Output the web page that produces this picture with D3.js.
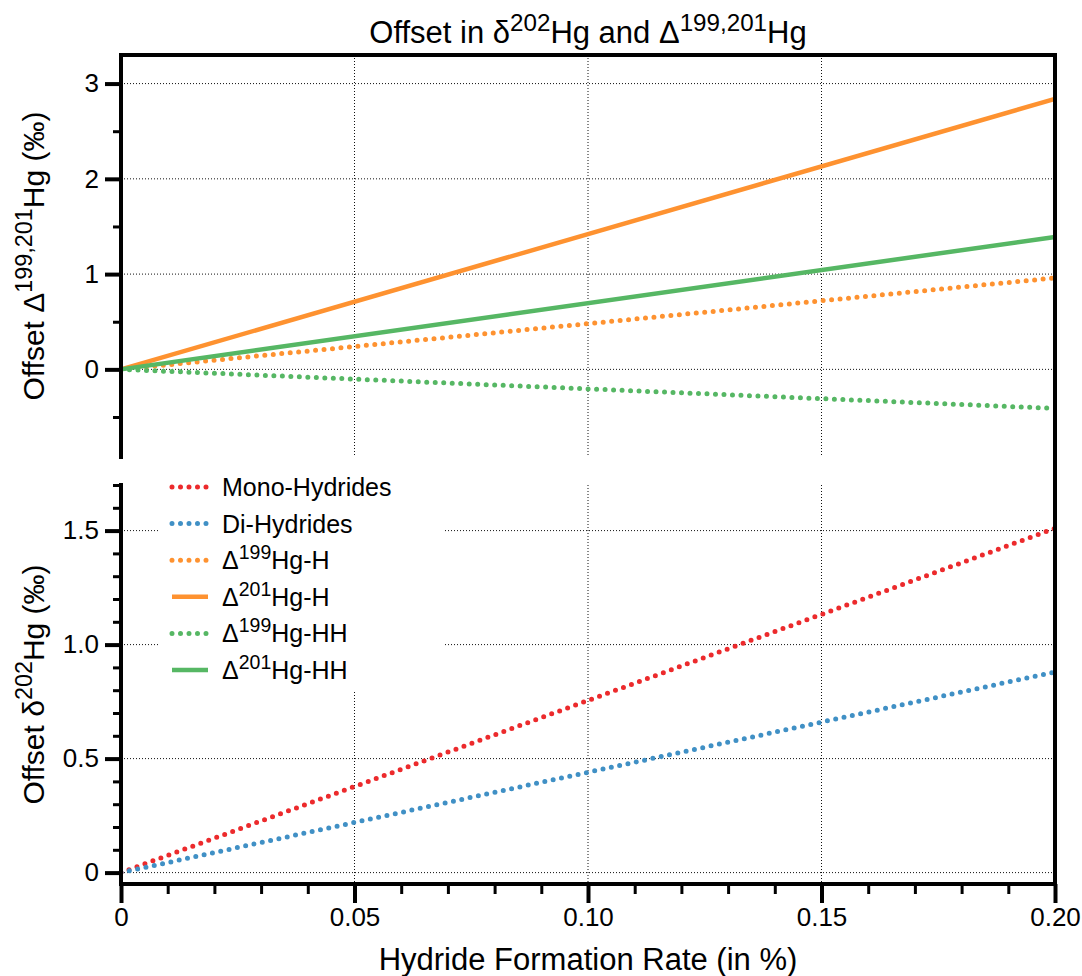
<!DOCTYPE html>
<html>
<head>
<meta charset="utf-8">
<script src="https://cdn.jsdelivr.net/npm/d3@7"></script>
<style>
  body { margin: 0; background: #fff; }
  text { font-family: "Liberation Sans", Arial, Helvetica, sans-serif; fill: #000; }
</style>
</head>
<body>
<div id="chart"></div>
<script>
// x positions of the computed end points (hydride formation rate, %)
const rate = [0, 0.2];

// top panel: offset in Δ199,201Hg (‰)
const d199H = [0, 0.96];
const d201H = [0, 2.84];
const d199HH = [0, -0.41];
const d201HH = [0, 1.39];

// bottom panel: offset in δ202Hg (‰)
const mono = [0, 1.51];
const di = [0, 0.88];

const xTicks = [0, 0.05, 0.10, 0.15, 0.20];
const xTickLabels = ["0", "0.05", "0.10", "0.15", "0.20"];
const xMinor = [0.01, 0.02, 0.03, 0.04, 0.06, 0.07, 0.08, 0.09, 0.11, 0.12, 0.13, 0.14, 0.16, 0.17, 0.18, 0.19];
const xGrid = [0.05, 0.10, 0.15];

const topTicks = [0, 1, 2, 3];
const topTickLabels = ["0", "1", "2", "3"];
const topMinor = [-0.5, 0.5, 1.5, 2.5];

const botTicks = [0, 0.5, 1.0, 1.5];
const botTickLabels = ["0", "0.5", "1.0", "1.5"];
const botMinor = [0.1, 0.2, 0.3, 0.4, 0.6, 0.7, 0.8, 0.9, 1.1, 1.2, 1.3, 1.4, 1.6, 1.7];

const width = 1082, height = 976;
const left = 121, right = 1055;
const topPanel = { top: 55, bottom: 457 };
const botPanel = { top: 485, bottom: 884 };

const colors = { red: "#ec2a2c", blue: "#4090c5", orange: "#fe9230", green: "#56b764" };

const svg = d3.select("#chart").append("svg")
    .attr("width", width)
    .attr("height", height);

const x = d3.scaleLinear().domain([0, 0.2]).range([left, right]);
const yTop = d3.scaleLinear().domain([-0.92, 3.3]).range([topPanel.bottom, topPanel.top]);
const yBot = d3.scaleLinear().domain([-0.05, 1.7]).range([botPanel.bottom, botPanel.top]);

// helper: text with superscript parts, [[str, isSup], ...]
function richText(g, parts, size) {
    let t = g.append("text").style("font-size", size + "px");
    let raised = false;
    parts.forEach(p => {
        let ts = t.append("tspan").text(p[0]);
        if (p[1] && !raised) {
            ts.attr("dy", -0.4 * size).style("font-size", (0.78 * size) + "px");
            raised = true;
        } else if (p[1]) {
            ts.style("font-size", (0.78 * size) + "px");
        } else if (raised) {
            ts.attr("dy", 0.4 * size);
            raised = false;
        }
    });
    return t;
}

function grid(panel, yScale, yVals) {
    let g = svg.append("g").attr("class", "grid")
        .attr("stroke", "#111")
        .attr("stroke-width", 1)
        .attr("stroke-dasharray", "1,2");
    g.selectAll(".h").data(yVals).enter().append("line")
        .attr("x1", left).attr("x2", right)
        .attr("y1", d => yScale(d)).attr("y2", d => yScale(d));
    g.selectAll(".v").data(xGrid).enter().append("line")
        .attr("x1", d => x(d)).attr("x2", d => x(d))
        .attr("y1", panel.top).attr("y2", panel.bottom);
}

grid(topPanel, yTop, topTicks);
grid(botPanel, yBot, botTicks);

// legend background hides the grid under it
svg.append("rect")
    .attr("x", 160).attr("y", 466)
    .attr("width", 283).attr("height", 226)
    .attr("fill", "#fff");

function drawLine(vals, yScale, color, dotted) {
    let line = d3.line().x((d, i) => x(rate[i])).y(d => yScale(d));
    let p = svg.append("path")
        .datum(vals)
        .attr("d", line)
        .attr("fill", "none")
        .attr("stroke", color);
    if (dotted) {
        p.attr("stroke-width", 5).attr("stroke-linecap", "round").attr("stroke-dasharray", "0,8.5");
    } else {
        p.attr("stroke-width", 4.5);
    }
}

drawLine(d199H, yTop, colors.orange, true);
drawLine(d199HH, yTop, colors.green, true);
drawLine(d201H, yTop, colors.orange, false);
drawLine(d201HH, yTop, colors.green, false);
drawLine(mono, yBot, colors.red, true);
drawLine(di, yBot, colors.blue, true);

// axes
function styleAxis(g, w) {
    g.select(".domain").remove();
    g.selectAll(".tick line").attr("stroke", "#000").attr("stroke-width", w);
    g.selectAll(".tick text").style("font-size", "26px").attr("fill", "#000");
}

function leftAxis(yScale, ticks, labels, minor) {
    svg.append("g")
        .attr("transform", `translate(${left},0)`)
        .call(d3.axisLeft(yScale).tickValues(minor).tickSize(8).tickFormat(""))
        .call(g => styleAxis(g, 3));
    svg.append("g")
        .attr("transform", `translate(${left},0)`)
        .call(d3.axisLeft(yScale).tickValues(ticks).tickSize(16).tickPadding(6)
            .tickFormat((d, i) => labels[i]))
        .call(g => styleAxis(g, 4));
}

leftAxis(yTop, topTicks, topTickLabels, topMinor);
leftAxis(yBot, botTicks, botTickLabels, botMinor);

svg.append("g")
    .attr("transform", `translate(0,${botPanel.bottom})`)
    .call(d3.axisBottom(x).tickValues(xMinor).tickSize(10).tickFormat(""))
    .call(g => styleAxis(g, 3));
svg.append("g")
    .attr("transform", `translate(0,${botPanel.bottom})`)
    .call(d3.axisBottom(x).tickValues(xTicks).tickSize(19).tickPadding(5)
        .tickFormat((d, i) => xTickLabels[i]))
    .call(g => styleAxis(g, 4));

// frame lines
const frame = svg.append("g").attr("stroke", "#000").attr("stroke-width", 4).attr("stroke-linecap", "square");
frame.append("line").attr("x1", left).attr("x2", right).attr("y1", topPanel.top).attr("y2", topPanel.top);
frame.append("line").attr("x1", right).attr("x2", right).attr("y1", topPanel.top).attr("y2", botPanel.bottom);
frame.append("line").attr("x1", left).attr("x2", left).attr("y1", topPanel.top).attr("y2", topPanel.bottom);
frame.append("line").attr("x1", left).attr("x2", left).attr("y1", botPanel.top).attr("y2", botPanel.bottom);
frame.append("line").attr("x1", left).attr("x2", right).attr("y1", botPanel.bottom).attr("y2", botPanel.bottom);

// title
richText(svg, [["Offset in δ"], ["202", true], ["Hg and Δ"], ["199,201", true], ["Hg"]], 31)
    .attr("x", (left + right) / 2).attr("y", 43).attr("text-anchor", "middle");

// axis labels
richText(svg, [["Hydride Formation Rate (in %)"]], 31)
    .attr("x", (left + right) / 2).attr("y", 970).attr("text-anchor", "middle");

richText(svg.append("g").attr("transform", `translate(44,${(topPanel.top + topPanel.bottom) / 2}) rotate(-90)`),
    [["Offset Δ"], ["199,201", true], ["Hg (‰)"]], 30)
    .attr("text-anchor", "middle");

richText(svg.append("g").attr("transform", `translate(44,${(botPanel.top + botPanel.bottom) / 2}) rotate(-90)`),
    [["Offset δ"], ["202", true], ["Hg (‰)"]], 30)
    .attr("text-anchor", "middle");

// legend
const legendItems = [
    { parts: [["Mono-Hydrides"]], color: colors.red, dotted: true },
    { parts: [["Di-Hydrides"]], color: colors.blue, dotted: true },
    { parts: [["Δ"], ["199", true], ["Hg-H"]], color: colors.orange, dotted: true },
    { parts: [["Δ"], ["201", true], ["Hg-H"]], color: colors.orange, dotted: false },
    { parts: [["Δ"], ["199", true], ["Hg-HH"]], color: colors.green, dotted: true },
    { parts: [["Δ"], ["201", true], ["Hg-HH"]], color: colors.green, dotted: false }
];

const legend = svg.append("g").attr("transform", "translate(172,487)");
legendItems.forEach((item, i) => {
    let g = legend.append("g").attr("transform", `translate(0,${i * 36.6})`);
    let l = g.append("line").attr("x1", 0).attr("x2", 36).attr("y1", 0).attr("y2", 0)
        .attr("stroke", item.color);
    if (item.dotted) {
        l.attr("stroke-width", 5).attr("stroke-linecap", "round").attr("stroke-dasharray", "0,8.5");
    } else {
        l.attr("stroke-width", 4.5);
    }
    richText(g, item.parts, 25).attr("x", 50).attr("y", 9);
});
</script>
</body>
</html>
